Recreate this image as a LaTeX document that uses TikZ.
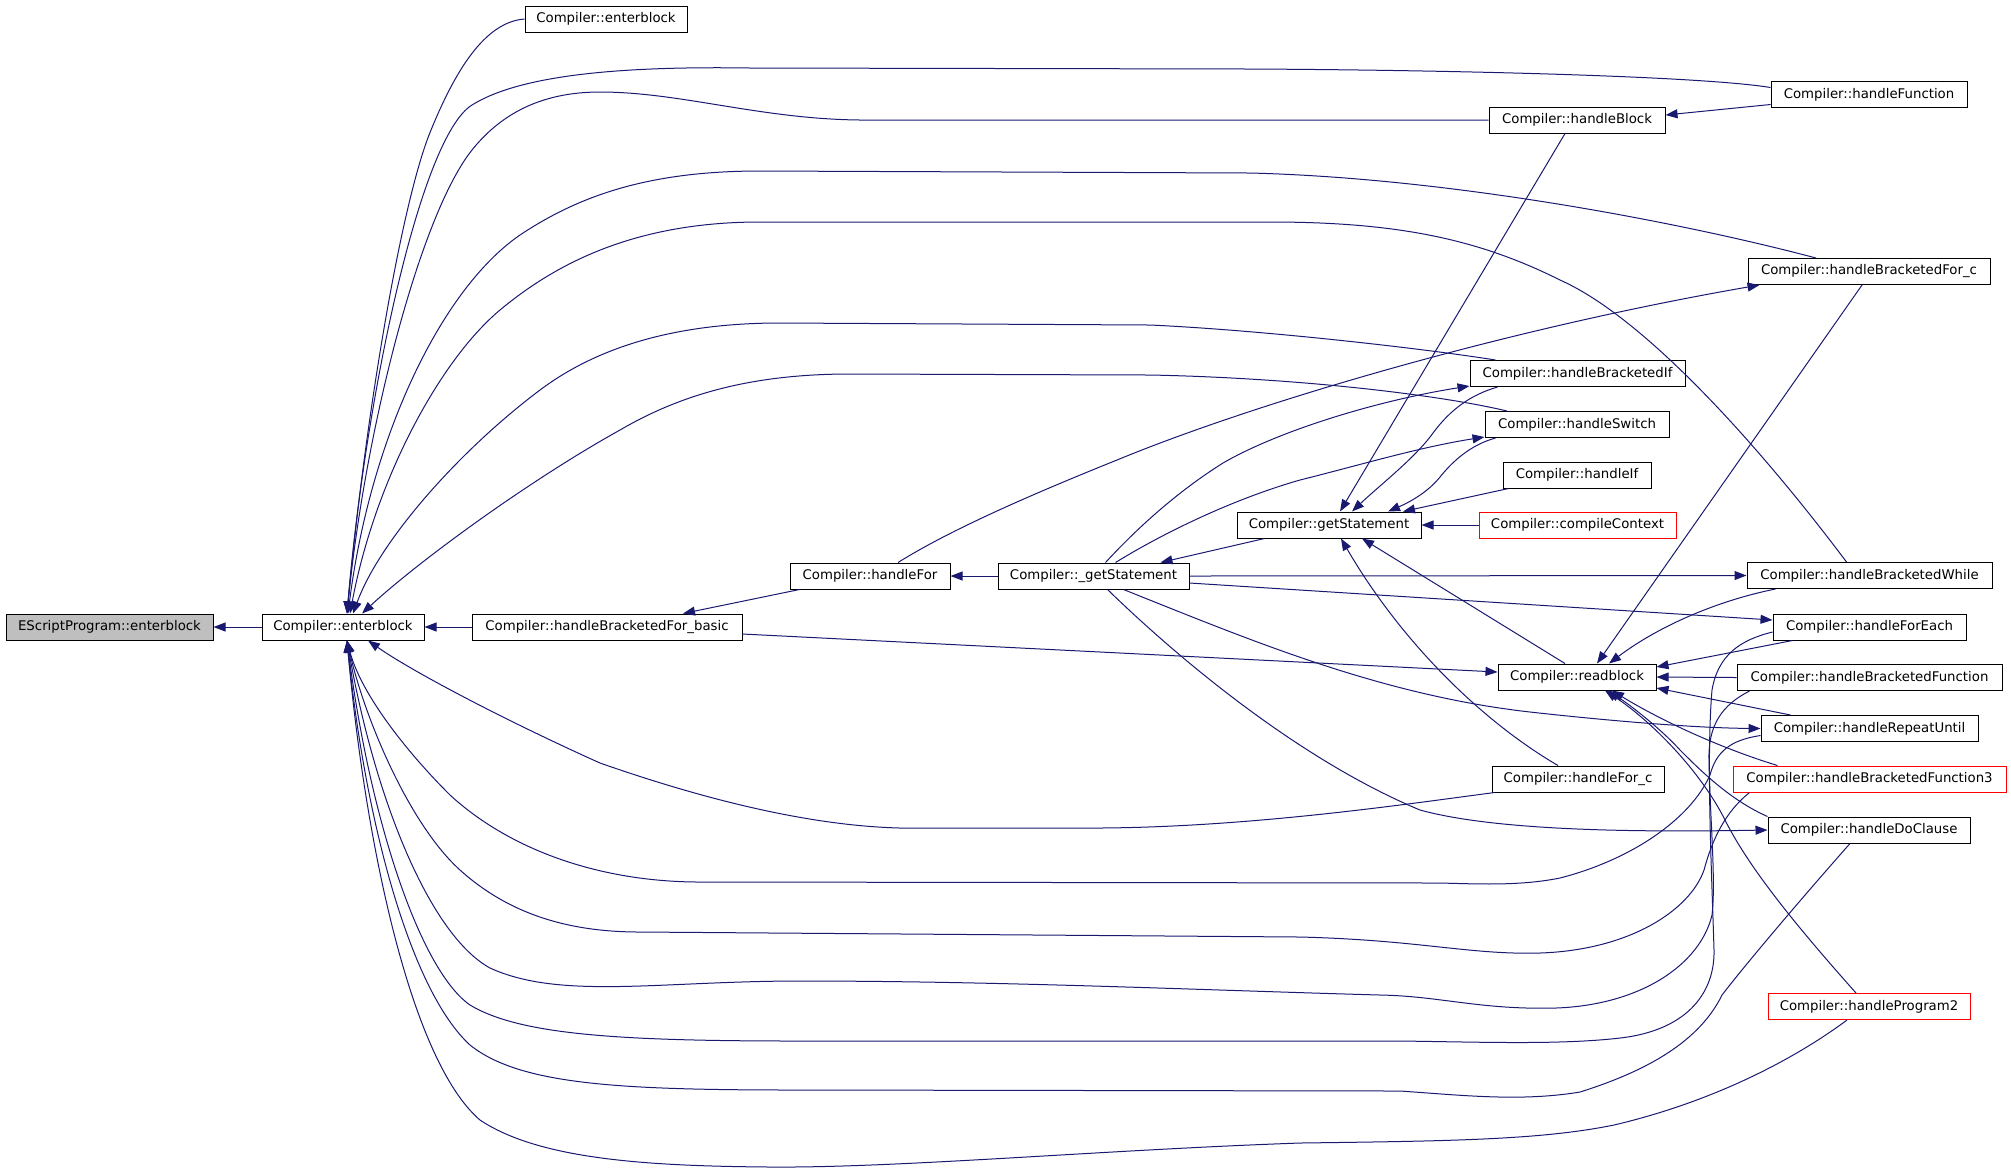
\documentclass[tikz,border=0pt]{standalone}
\usepackage{fontspec}
\setmainfont{DejaVu Sans}
\usetikzlibrary{arrows.meta,calc}
\definecolor{edgeblue}{RGB}{25,25,112}
\definecolor{graybox}{RGB}{191,191,191}
\tikzset{
  fn/.style={draw=black, fill=white, line width=0.5pt, inner sep=0pt, minimum height=13pt,
    font=\fontsize{6.65}{8}\selectfont, text=black},
  rfn/.style={fn, draw=red},
  conn/.style={draw=edgeblue, line width=0.5pt, -{Triangle[length=6pt,width=4.5pt]}}
}
\begin{document}
\begin{tikzpicture}[x=0.5pt,y=-0.5pt]
\useasboundingbox (0,0) rectangle (2011,1175);
% nodes
\node[fn, fill=graybox, minimum width=103.5pt] (escript) at (109.5,627) {EScriptProgram::enterblock};
\node[fn, minimum width=81pt] (enter) at (343,627) {Compiler::enterblock};
\node[fn, minimum width=135pt] (hbfb) at (607,627) {Compiler::handleBracketedFor\_basic};
\node[fn, minimum width=81pt] (enter2) at (606,19) {Compiler::enterblock};
\node[fn, minimum width=80pt] (hfor) at (870,576) {Compiler::handleFor};
\node[fn, minimum width=95.5pt] (gs2) at (1093.5,576) {Compiler::\_getStatement};
\node[fn, minimum width=92pt] (gs) at (1329,525) {Compiler::getStatement};
\node[rfn, minimum width=98.5pt] (cc) at (1577.5,525) {Compiler::compileContext};
\node[fn, minimum width=74pt] (hif) at (1577,475) {Compiler::handleIf};
\node[fn, minimum width=92pt] (hsw) at (1577,424.5) {Compiler::handleSwitch};
\node[fn, minimum width=107.5pt] (hbif) at (1577.5,373.5) {Compiler::handleBracketedIf};
\node[fn, minimum width=88pt] (hbl) at (1577,120) {Compiler::handleBlock};
\node[fn, minimum width=98pt] (hfun) at (1869,94.5) {Compiler::handleFunction};
\node[fn, minimum width=121pt] (hbfc) at (1869,271.5) {Compiler::handleBracketedFor\_c};
\node[fn, minimum width=122.5pt] (hbw) at (1869.5,575.5) {Compiler::handleBracketedWhile};
\node[fn, minimum width=96.5pt] (hfe) at (1869.5,627) {Compiler::handleForEach};
\node[fn, minimum width=79pt] (rb) at (1577,677) {Compiler::readblock};
\node[fn, minimum width=132.5pt] (hbf) at (1869.5,677.5) {Compiler::handleBracketedFunction};
\node[fn, minimum width=108.5pt] (hru) at (1869.5,728.5) {Compiler::handleRepeatUntil};
\node[rfn, minimum width=136.5pt] (hbf3) at (1869.5,779) {Compiler::handleBracketedFunction3};
\node[fn, minimum width=86pt] (hfc) at (1578,779) {Compiler::handleFor\_c};
\node[fn, minimum width=101pt] (hdc) at (1869,830) {Compiler::handleDoClause};
\node[rfn, minimum width=101pt] (hp2) at (1869,1006.5) {Compiler::handleProgram2};

% edges into enterblock / escript
\draw[conn] (enter.west) -- (escript.east);
\draw[conn] (hbfb.west) -- (enter.east);
\draw[conn] (enter2.west) .. controls (485,22) and (455,70) .. (429,135) .. controls (400,210) and (365,420) .. ($(enter.north)+(4,0)$);
\draw[conn] ($(hfun.west)+(0,-7)$) .. controls (1700,76) and (1450,70) .. (1250,69) -- (750,68) .. controls (620,66) and (520,75) .. (472,105) .. controls (420,137) and (365,400) .. ($(enter.north)+(4,0)$);
\draw[conn] (hbl.west) -- (860,120) .. controls (760,119) and (680,92) .. (600,92) .. controls (540,92) and (500,115) .. (472,150) .. controls (420,215) and (365,430) .. ($(enter.north)+(4,0)$);
\draw[conn] ($(hbfc.north)+(-53,0)$) .. controls (1680,222) and (1450,178) .. (1250,173) -- (760,171) .. controls (650,171) and (580,195) .. (520,235) .. controls (440,290) and (370,440) .. ($(enter.north)+(5,0)$);
\draw[conn] ($(hbw.north)+(-23,0)$) .. controls (1770,460) and (1650,320) .. (1560,280) .. controls (1480,240) and (1400,222) .. (1270,222) -- (760,222) .. controls (640,222) and (560,260) .. (500,310) .. controls (440,360) and (375,480) .. ($(enter.north)+(7,0)$);
\draw[conn] ($(hbif.north)+(-82,0)$) .. controls (1420,348) and (1260,330) .. (1150,325) -- (780,323) .. controls (680,323) and (600,345) .. (540,390) .. controls (460,450) and (380,540) .. ($(enter.north)+(10,0)$);
\draw[conn] ($(hsw.north)+(-70,0)$) .. controls (1440,395) and (1300,378) .. (1150,375) -- (850,374) .. controls (750,374) and (680,395) .. (620,430) .. controls (530,480) and (420,560) .. ($(enter.north)+(19,0)$);
\draw[conn] ($(hfc.south west)+(3,0)$) .. controls (1400,805) and (1250,827) .. (1100,828) -- (900,828) .. controls (820,826) and (720,805) .. (600,763) .. controls (500,718) and (410,670) .. ($(enter.south)+(25,0)$);
\draw[conn] ($(hru.west)+(0,7)$) .. controls (1730,740) and (1716,752) .. (1710,775) .. controls (1690,820) and (1630,860) .. (1560,878) .. controls (1520,886) and (1480,884) .. (1440,883) -- (700,882) .. controls (600,882) and (510,850) .. (450,795) .. controls (400,745) and (360,690) .. ($(enter.south)+(4,0)$);
\draw[conn] ($(hbf3.south west)+(17,0)$) .. controls (1725,812) and (1712,840) .. (1704,870) .. controls (1690,910) and (1630,950) .. (1540,953) .. controls (1470,955) and (1420,940) .. (1300,937) -- (640,932) .. controls (570,932) and (510,915) .. (460,870) .. controls (410,825) and (365,720) .. ($(enter.south)+(4,0)$);
\draw[conn] ($(hbf.south west)+(13,0)$) .. controls (1722,705) and (1708,725) .. (1709,760) .. controls (1710,820) and (1716,880) .. (1712,915) .. controls (1700,965) and (1640,1005) .. (1556,1008) .. controls (1480,1010) and (1440,996) .. (1380,995) .. controls (1200,990) and (1000,981) .. (800,981) .. controls (660,981) and (560,1000) .. (490,968) .. controls (430,935) and (375,800) .. ($(enter.south)+(4,0)$);
\draw[conn] ($(hfe.west)+(0,5)$) .. controls (1740,640) and (1718,655) .. (1712,690) .. controls (1706,760) and (1712,880) .. (1714,950) .. controls (1715,990) and (1690,1030) .. (1620,1038) .. controls (1560,1045) and (1480,1042) .. (1400,1041) -- (800,1041) .. controls (620,1041) and (520,1035) .. (470,1005) .. controls (420,970) and (370,820) .. ($(enter.south)+(4,0)$);
\draw[conn] ($(hdc.south)+(-19,0)$) .. controls (1800,900) and (1745,965) .. (1722,995) .. controls (1700,1040) and (1650,1070) .. (1580,1092) .. controls (1520,1102) and (1460,1095) .. (1400,1091) -- (800,1090) .. controls (620,1090) and (520,1085) .. (470,1045) .. controls (410,990) and (365,820) .. ($(enter.south)+(4,0)$);
\draw[conn] ($(hp2.south)+(-22,0)$) .. controls (1800,1055) and (1720,1100) .. (1614,1125) .. controls (1540,1140) and (1450,1141) .. (1300,1143) .. controls (1100,1150) and (900,1168) .. (770,1167) .. controls (650,1166) and (540,1160) .. (480,1120) .. controls (410,1060) and (365,840) .. ($(enter.south)+(4,0)$);

% edges into readblock
\draw[conn] ($(hbfb.east)+(0,7)$) -- ($(rb.west)+(0,-5)$);
\draw[conn] ($(hbfc.south)+(-7,0)$) -- ($(rb.north)+(20,0)$);
\draw[conn] ($(hbw.south west)+(29,0)$) .. controls (1720,600) and (1660,625) .. ($(rb.north)+(32,0)$);
\draw[conn] ($(hfe.south west)+(20,0)$) -- ($(rb.east)+(0,-10)$);
\draw[conn] (hbf.west) -- (rb.east);
\draw[conn] ($(hru.north west)+(30,0)$) -- ($(rb.east)+(0,11)$);
\draw[conn] ($(hbf3.north west)+(45,0)$) .. controls (1720,748) and (1660,720) .. ($(rb.south)+(35,0)$);
\draw[conn] (hdc.north west) .. controls (1730,800) and (1700,770) .. (1680,750) .. controls (1660,728) and (1630,705) .. ($(rb.south)+(31,0)$);
\draw[conn] ($(hp2.north)+(-13,0)$) .. controls (1800,930) and (1750,870) .. (1725,820) .. controls (1700,770) and (1650,720) .. ($(rb.south)+(28,0)$);

% edges into getStatement
\draw[conn] ($(rb.north)+(-12,0)$) -- ($(gs.south)+(33,0)$);
\draw[conn] ($(hfc.north)+(-20,0)$) .. controls (1480,720) and (1400,640) .. ($(gs.south)+(12,0)$);
\draw[conn] ($(hbl.south)+(-12,0)$) -- ($(gs.north)+(11,0)$);
\draw[conn] ($(hbif.south west)+(28,0)$) .. controls (1470,395) and (1450,410) .. (1433,433) .. controls (1415,458) and (1380,485) .. ($(gs.north)+(23,0)$);
\draw[conn] ($(hsw.south west)+(11,0)$) .. controls (1470,445) and (1452,462) .. (1440,477) .. controls (1428,492) and (1410,502) .. ($(gs.north)+(59,0)$);
\draw[conn] ($(hif.south west)+(6,0)$) -- ($(gs.north)+(74,0)$);
\draw[conn] (cc.west) -- (gs.east);

% edges around _getStatement
\draw[conn] ($(gs.south west)+(28,0)$) -- ($(gs2.north)+(67,0)$);
\draw[conn] ($(gs2.north)+(12,0)$) .. controls (1140,525) and (1180,490) .. (1223,463) .. controls (1280,430) and (1380,400) .. ($(hbif.south west)+(0,-1)$);
\draw[conn] ($(gs2.north)+(22,0)$) .. controls (1160,535) and (1230,500) .. (1300,480) .. controls (1360,465) and (1420,447) .. ($(hsw.south west)+(0,-1)$);
\draw[conn] (gs2.east) -- (hbw.west);
\draw[conn] ($(gs2.east)+(0,7)$) -- ($(hfe.west)+(0,-7)$);
\draw[conn] ($(gs2.south)+(30,0)$) .. controls (1250,640) and (1380,695) .. (1530,712) .. controls (1620,722) and (1700,728) .. (hru.west);
\draw[conn] ($(gs2.south)+(14,0)$) .. controls (1180,660) and (1300,760) .. (1420,810) .. controls (1500,832) and (1650,832) .. (hdc.west);
\draw[conn] (gs2.west) -- (hfor.east);

% edges from handleFor and handleFunction
\draw[conn] ($(hfor.south west)+(10,0)$) -- ($(hbfb.north)+(76,0)$);
\draw[conn] ($(hfor.north)+(28,0)$) .. controls (950,530) and (1030,495) .. (1117,460) .. controls (1250,405) and (1500,330) .. ($(hbfc.south west)+(12,0)$);
\draw[conn] ($(hfun.west)+(0,10)$) -- ($(hbl.east)+(0,-5)$);
\end{tikzpicture}
\end{document}
